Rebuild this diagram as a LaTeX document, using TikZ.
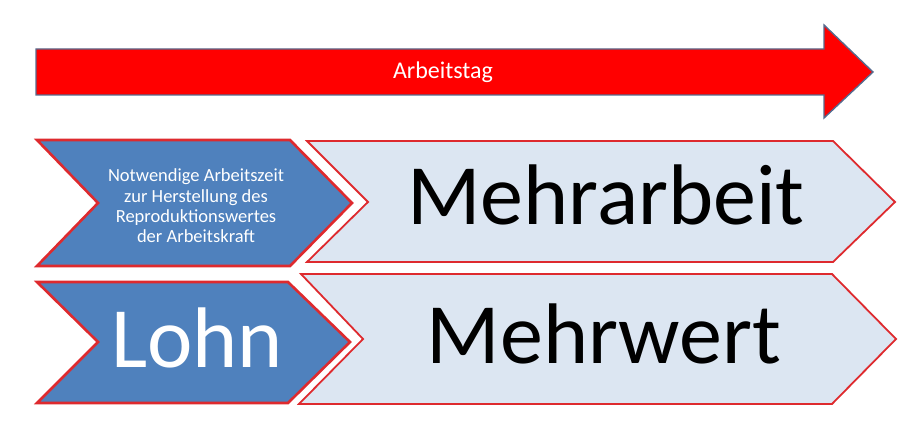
\documentclass[tikz,border=0pt]{standalone}
\usepackage{fontspec}
\setmainfont{Carlito}
\usepackage{tikz}
\usetikzlibrary{positioning,calc}

\definecolor{lohn-blue}{HTML}{4F81BD}
\definecolor{pale-blue}{HTML}{DCE6F2}
\definecolor{edge-red}{HTML}{DE2A2E}
\definecolor{arrow-edge}{HTML}{566A8E}

\begin{document}
\begin{tikzpicture}[x=1pt, y=-1pt,
        blue-chevron/.style={draw=edge-red, line width=2.6pt, fill=lohn-blue},
        pale-chevron/.style={draw=edge-red, line width=1.8pt, fill=pale-blue},
        big-text/.style={font=\fontsize{86}{86}\selectfont, inner sep=0, anchor=base}]
        \useasboundingbox (0, 0) rectangle (908, 438);

        % Arbeitstag
        \draw[arrow-edge, line width=1.4pt, fill=red] (36, 49) -- (824, 49) -- (824, 25) -- (873, 72)
                -- (824, 118) -- (824, 95) -- (36, 95) -- cycle;
        \node[white, inner sep=0, anchor=base, font=\fontsize{24}{24}\selectfont] (tag-t) at (443, 79) {Arbeitstag};

        % upper row
        \draw[pale-chevron] (307, 141) -- (833, 141) -- (895, 202) -- (833, 262) -- (307, 262) -- (368, 202) -- cycle;
        \draw[blue-chevron] (37, 140) -- (290, 140) -- (352, 203) -- (290, 266) -- (37, 266) -- (98, 203) -- cycle;

        \node[white, align=center, font=\fontsize{18.5}{20.3}\selectfont, inner sep=0] (arbeitszeit-t) at (196, 206)
                {Notwendige Arbeitszeit\\zur Herstellung des\\Reproduktionswertes\\der Arbeitskraft};
        \node[big-text] (mehrarbeit-t) at (606, 225) {Mehrarbeit};

        % lower row
        \draw[pale-chevron] (301, 274) -- (832, 274) -- (896, 339) -- (832, 404) -- (299, 404) -- (363, 339) -- cycle;
        \draw[blue-chevron] (37, 282) -- (288, 282) -- (350, 342) -- (288, 403) -- (37, 403) -- (98, 342) -- cycle;

        \node[big-text, white] (lohn-t) at (197, 367) {Lohn};
        \node[big-text] (mehrwert-t) at (604, 363) {Mehrwert};
\end{tikzpicture}
\end{document}
